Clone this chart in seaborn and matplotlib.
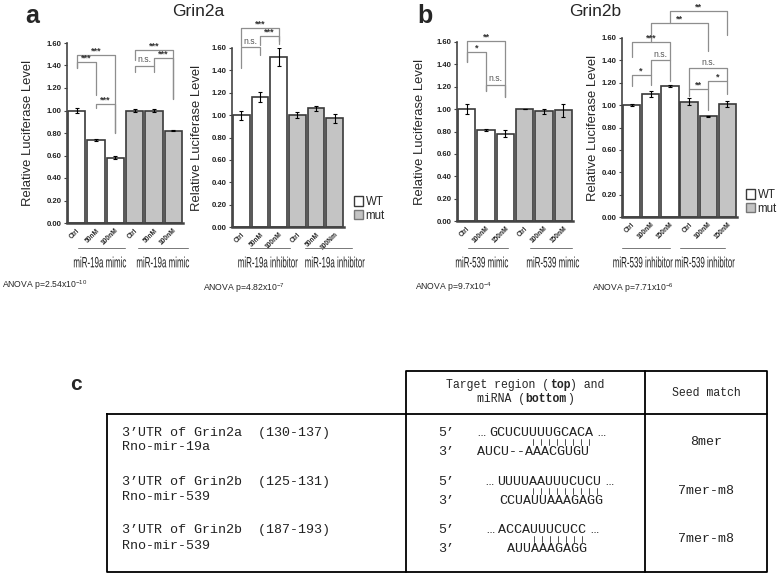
import matplotlib
matplotlib.use('Agg')
import matplotlib.pyplot as plt
import seaborn as sns
import pandas as pd
import numpy as np
from matplotlib.patches import Patch, PathPatch
from matplotlib.textpath import TextPath
from matplotlib.font_manager import FontProperties
from matplotlib.transforms import Affine2D

sns.set_style('ticks')
plt.rcParams['font.family'] = ['Liberation Sans', 'DejaVu Sans']
plt.rcParams['mathtext.fontset'] = 'custom'
plt.rcParams['mathtext.rm'] = 'Liberation Sans'

W, H = 778, 575

# ---- data: panel a (Grin2a) ----
a_doses = ['Ctrl', '50nM', '100nM']
a_doses_mut_inh = ['Ctrl', '50nM', '100Nm']
a_mimic_wt = [1.00, 0.74, 0.58]
a_mimic_wt_err = [0.02, 0.007, 0.015]
a_mimic_mut = [1.00, 1.00, 0.82]
a_mimic_mut_err = [0.012, 0.015, 0.004]
a_inh_wt = [1.00, 1.16, 1.52]
a_inh_wt_err = [0.04, 0.045, 0.08]
a_inh_mut = [1.00, 1.06, 0.97]
a_inh_mut_err = [0.03, 0.02, 0.04]

# ---- data: panel b (Grin2b) ----
b_doses = ['Ctrl', '100nM', '150nM']
b_mimic_wt = [1.00, 0.81, 0.78]
b_mimic_wt_err = [0.045, 0.008, 0.03]
b_mimic_mut = [1.00, 0.98, 0.99]
b_mimic_mut_err = [0.003, 0.025, 0.06]
b_inh_wt = [1.00, 1.10, 1.17]
b_inh_wt_err = [0.01, 0.03, 0.008]
b_inh_mut = [1.03, 0.90, 1.01]
b_inh_mut_err = [0.03, 0.004, 0.03]

anova = ['ANOVA p=2.54x10$^{-10}$', 'ANOVA p=4.82x10$^{-7}$',
         'ANOVA p=9.7x10$^{-4}$', 'ANOVA p=7.71x10$^{-6}$']

# significance brackets: (bar i, bar j, top, leg i end, leg j end, label)
a_mimic_sig = [(0, 1, 1.43, 1.38, 1.14, '***'), (0, 2, 1.49, 1.38, 0.80, '***'),
               (1, 2, 1.06, 1.02, 0.80, '***'), (3, 4, 1.40, 1.345, 1.345, 'n.s.'),
               (3, 5, 1.54, 1.45, 1.10, '***'), (4, 5, 1.47, 1.40, 1.10, '***')]
a_inh_sig = [(0, 1, 1.61, 1.42, 1.54, 'n.s.'), (0, 2, 1.78, 1.62, 1.66, '***'),
             (1, 2, 1.71, 1.63, 1.64, '***')]
b_mimic_sig = [(0, 1, 1.51, 1.42, 1.16, '*'), (0, 2, 1.61, 1.42, 1.11, '**'),
               (1, 2, 1.22, 1.16, 1.11, 'n.s.')]
b_inh_sig = [(0, 1, 1.27, 1.17, 1.18, '*'), (1, 2, 1.40, 1.27, 1.22, 'n.s.'),
             (0, 2, 1.56, 1.43, 1.40, '***'), (3, 4, 1.14, 1.08, 0.96, '**'),
             (4, 5, 1.22, 1.14, 1.10, '*'), (3, 5, 1.33, 1.14, 1.22, 'n.s.'),
             (1, 4, 1.73, 1.56, 1.48, '**'), (2, 5, 1.84, 1.73, 1.63, '**')]

# ---- data: table c ----
tbl_utr = ['3\u2019UTR of Grin2a  (130-137)', '3\u2019UTR of Grin2b  (125-131)',
           '3\u2019UTR of Grin2b  (187-193)']
tbl_mir = ['Rno-mir-19a', 'Rno-mir-539', 'Rno-mir-539']
tbl_target = ['GCUCUUUUGCACA', 'UUUUAAUUUCUCU', 'ACCAUUUCUCC']
tbl_mirna = ['AUCU--AAACGUGU', 'CCUAUUAAAGAGG', 'AUUAAAGAGG']
tbl_pair_start = [5, 4, 4]
tbl_pair_n = [8, 9, 7]
tbl_seed = ['8mer', '7mer-m8', '7mer-m8']

pal = {'WT': 'white', 'mut': '#c4c4c4'}
edge = '#3a3a3a'
brk = '#8e8e8e'

fig = plt.figure(figsize=(W / 100, H / 100), dpi=100)


def rect(l, t, r, b):
    return [l / W, 1 - b / H, (r - l) / W, (b - t) / H]


def panel(box, doses_wt, doses_mut, wt, wt_err, mut, mut_err, sig, ylab_x):
    ax = fig.add_axes(rect(*box))
    names = ['WT ' + d for d in doses_wt] + ['mut ' + d for d in doses_mut]
    df = pd.DataFrame({'bar': names, 'value': wt + mut,
                       'geno': ['WT'] * len(wt) + ['mut'] * len(mut)})
    sns.barplot(data=df, x='bar', y='value', hue='geno', palette=pal, dodge=False,
                width=0.9, edgecolor=edge, linewidth=1.2, errorbar=None,
                legend=False, ax=ax)
    ax.errorbar(np.arange(len(names)), wt + mut, yerr=wt_err + mut_err, fmt='none',
                ecolor='black', elinewidth=0.8, capsize=1.6, capthick=0.8)
    ax.set_ylim(0, 1.6)
    ax.set_xlim(-0.5, len(names) - 0.5)
    ax.set_yticks(np.linspace(0, 1.6, 9))
    ax.set_yticklabels(['%.2f' % v for v in np.linspace(0, 1.6, 9)],
                       fontsize=5.6, fontweight='bold', color='#222')
    ax.set_xticks(np.arange(len(names)))
    ax.set_xticklabels(doses_wt + doses_mut, rotation=45, ha='right',
                       rotation_mode='anchor', fontsize=4.8, fontweight='bold')
    ax.tick_params(axis='x', length=0, pad=3)
    ax.tick_params(axis='y', length=2, width=0.8, pad=2, color='#444')
    ax.set_xlabel('')
    ax.set_ylabel('Relative Luciferase Level', fontsize=9.4)
    ax.yaxis.set_label_coords(ylab_x, 0.5)
    sns.despine(ax=ax)
    ax.spines['left'].set_color('#444')
    ax.spines['left'].set_linewidth(1.2)
    ax.spines['bottom'].set_color('#444')
    ax.spines['bottom'].set_linewidth(1.8)
    for i, j, top, li, lj, lab in sig:
        ax.plot([i, i, j, j], [li, top, top, lj], color=brk, lw=0.9, clip_on=False)
        if lab == 'n.s.':
            ax.text((i + j) / 2, top + 0.01, lab, ha='center', va='bottom',
                    fontsize=6.2, color='#555')
        else:
            ax.text((i + j) / 2, top - 0.005, lab, ha='center', va='bottom',
                    fontsize=6.5, color='#333', fontweight='bold')
    return ax


ax1 = panel((67, 43, 183, 223), a_doses, a_doses, a_mimic_wt, a_mimic_wt_err,
            a_mimic_mut, a_mimic_mut_err, a_mimic_sig, -0.285)
ax2 = panel((232, 48, 344, 227), a_doses, a_doses_mut_inh, a_inh_wt, a_inh_wt_err,
            a_inh_mut, a_inh_mut_err, a_inh_sig, -0.26)
ax3 = panel((457, 42, 573, 221), b_doses, b_doses, b_mimic_wt, b_mimic_wt_err,
            b_mimic_mut, b_mimic_mut_err, b_mimic_sig, -0.27)
ax4 = panel((622, 38, 737, 217), b_doses, b_doses, b_inh_wt, b_inh_wt_err,
            b_inh_mut, b_inh_mut_err, b_inh_sig, -0.2)

# overlay in pixel coordinates for labels and the table
ov = fig.add_axes([0, 0, 1, 1])
ov.set_xlim(0, W)
ov.set_ylim(H, 0)
ov.axis('off')

ov.text(32, 16, 'a', fontsize=18, fontweight='bold', ha='center', va='center')
ov.text(425, 16, 'b', fontsize=18, fontweight='bold', ha='center', va='center')
ov.text(76, 385, 'c', fontsize=15, fontweight='bold', ha='center', va='center')
ov.text(198, 12, 'Grin2a', fontsize=12.5, ha='center', va='center')
ov.text(595, 12, 'Grin2b', fontsize=12.5, ha='center', va='center')


def narrow_text(x, y, s, size_px=15, squeeze=0.53, color='#222'):
    # condensed lettering: glyph outlines squeezed horizontally
    tp = TextPath((0, 0), s, size=size_px, prop=FontProperties(family='Liberation Sans'))
    bb = tp.get_extents()
    tr = (Affine2D().translate(-(bb.x0 + bb.x1) / 2, -(bb.y0 + bb.y1) / 2)
          .scale(squeeze, -1).translate(x, y) + ov.transData)
    ov.add_patch(PathPatch(tp, transform=tr, facecolor=color, edgecolor='none'))


groups = [('miR-19a mimic', 100, 78, 125), ('miR-19a mimic', 163, 138, 188),
          ('miR-19a inhibitor', 268, 250, 290), ('miR-19a inhibitor', 335, 305, 352),
          ('miR-539 mimic', 482, 468, 508), ('miR-539 mimic', 553, 530, 572),
          ('miR-539 inhibitor', 643, 622, 670), ('miR-539 inhibitor', 705, 680, 725)]
for lab, cx, l0, l1 in groups:
    narrow_text(cx, 262, lab)
    ov.plot([l0, l1], [248, 248], color='#777', lw=0.7)

for txt, x, y in zip(anova, [2, 203, 415, 592], [285, 288, 287, 288]):
    ov.text(x, y, txt, fontsize=6.2, ha='left', va='center')

# legends
hand = [Patch(facecolor='white', edgecolor=edge, label='WT'),
        Patch(facecolor=pal['mut'], edgecolor='#777', label='mut')]
for x, y in [(354, 196), (746, 189)]:
    fig.legend(handles=hand, loc='upper left', bbox_to_anchor=(x / W, 1 - y / H),
               frameon=False, fontsize=8.3, handlelength=0.8, handleheight=0.85,
               handletextpad=0.2, labelspacing=0.15, borderpad=0, borderaxespad=0)

# table c
mono = 'Liberation Mono'
lw = 1.3
ov.plot([406, 406, 767, 767], [414, 371, 371, 414], color='black', lw=lw)
ov.plot([645, 645], [371, 572], color='black', lw=lw)
ov.plot([406, 406], [414, 572], color='black', lw=lw)
ov.plot([107, 767, 767, 107, 107], [414, 414, 572, 572, 414], color='black', lw=lw)

hs = 8.3
adv = 0.6 * hs * 100 / 72
line1 = ['Target region (', 'top', ') and']
x0 = 525.5 - adv * len(''.join(line1)) / 2
for part in line1:
    ov.text(x0, 385, part, family=mono, fontsize=hs, va='center', ha='left',
            fontweight='bold' if part == 'top' else 'normal')
    x0 += adv * len(part)
line2 = ['miRNA (', 'bottom', ')']
x0 = 525.5 - adv * len(''.join(line2)) / 2
for part in line2:
    ov.text(x0, 399, part, family=mono, fontsize=hs, va='center', ha='left',
            fontweight='bold' if part == 'bottom' else 'normal')
    x0 += adv * len(part)
ov.text(706, 393, 'Seed match', family=mono, fontsize=hs, ha='center', va='center')

bs = 9.6
badv = 0.6 * bs * 100 / 72
row_y = [433, 482, 530]
mir_y = [447, 497, 546]
tgt_x = [489, 497, 498]
mir_x = [477, 499, 507]
tc = '#222'
for k in range(3):
    ov.text(122, row_y[k], tbl_utr[k], family=mono, fontsize=bs, va='center', color=tc)
    ov.text(122, mir_y[k], tbl_mir[k], family=mono, fontsize=bs, va='center', color=tc)
    ov.text(438, row_y[k], '5\u2019', family=mono, fontsize=bs, va='center', color=tc)
    ov.text(438, row_y[k] + 19, '3\u2019', family=mono, fontsize=bs, va='center',
            color=tc)
    ov.text(tgt_x[k] - 4, row_y[k], '\u2026', family=mono, fontsize=bs,
            va='center', ha='right', color=tc)
    ov.text(tgt_x[k], row_y[k], tbl_target[k], family=mono, fontsize=bs, va='center',
            color=tc)
    ov.text(tgt_x[k] + badv * len(tbl_target[k]) + 4, row_y[k], '\u2026',
            family=mono, fontsize=bs, va='center', color=tc)
    ov.text(mir_x[k], row_y[k] + 19, tbl_mirna[k], family=mono, fontsize=bs,
            va='center', color=tc)
    for p in range(tbl_pair_start[k], tbl_pair_start[k] + tbl_pair_n[k]):
        xm = tgt_x[k] + badv * (p + 0.5)
        ov.plot([xm, xm], [row_y[k] + 6, row_y[k] + 12], color='#333', lw=0.6)
    ov.text(706, row_y[k] + 9, tbl_seed[k], family=mono, fontsize=bs,
            ha='center', va='center', color=tc)

fig.savefig('out.png', dpi=100)
